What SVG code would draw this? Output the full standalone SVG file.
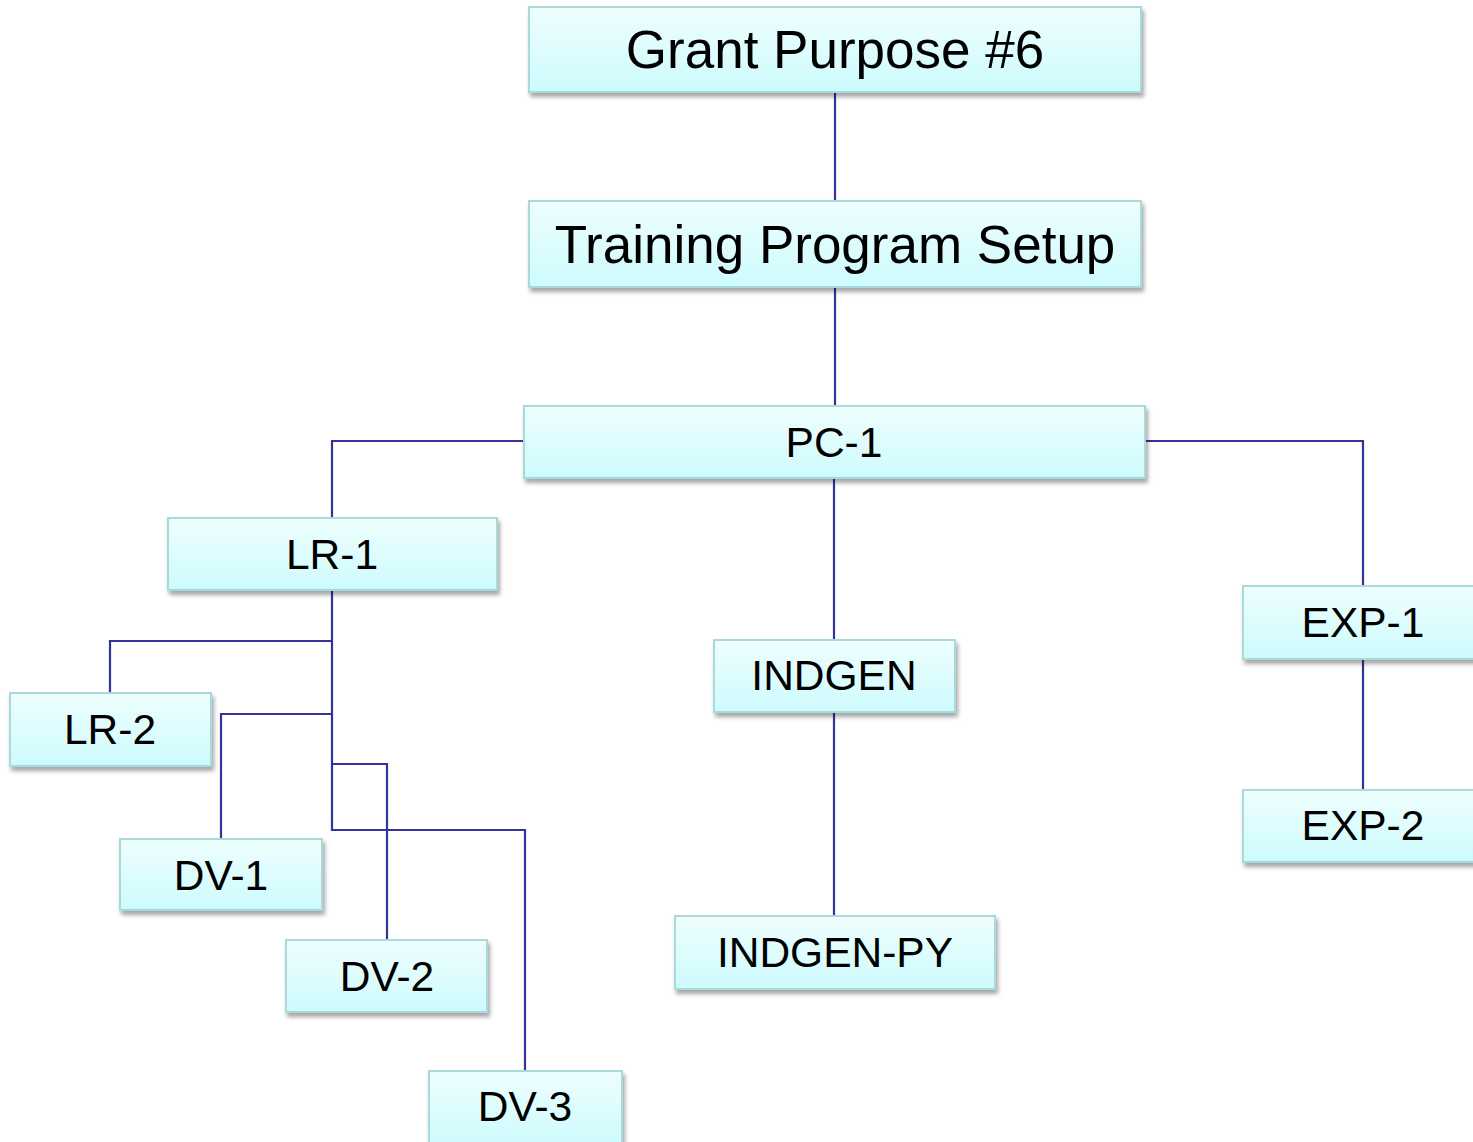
<svg xmlns="http://www.w3.org/2000/svg" width="1473" height="1142" viewBox="0 0 1473 1142">
<defs>
<linearGradient id="g" x1="0" y1="0" x2="0" y2="1">
<stop offset="0" stop-color="#effefe"/>
<stop offset="1" stop-color="#cdfbfd"/>
</linearGradient>
<filter id="sh" x="-10%" y="-20%" width="120%" height="150%">
<feDropShadow dx="2" dy="4" stdDeviation="2" flood-color="#000" flood-opacity="0.35"/>
</filter>
</defs>
<style>
.box{fill:url(#g);stroke:#a9d9d9;stroke-width:2;filter:url(#sh)}
.t{font-family:"Liberation Sans",Arial,sans-serif;fill:#000;text-anchor:middle}
.big{font-size:53px}
.sm{font-size:42.5px}
.c{fill:none;stroke:#33339a;stroke-width:2.2}
</style>
<rect width="1473" height="1142" fill="#fff"/>
<g id="connectors">
<path class="c" d="M835 92V201"/>
<path class="c" d="M835 287V406"/>
<path class="c" d="M524 441H332V518"/>
<path class="c" d="M1145 441H1363V586"/>
<path class="c" d="M834 478V640"/>
<path class="c" d="M834 712V916"/>
<path class="c" d="M1363 659V790"/>
<path class="c" d="M332 590V830H525V1071"/>
<path class="c" d="M332 641H110V693"/>
<path class="c" d="M332 714H221V839"/>
<path class="c" d="M332 764H387V940"/>
</g>
<g id="grant"><rect class="box" x="529" y="7" width="612" height="85"/><text class="t big" x="835" y="68">Grant Purpose #6</text></g>
<g id="training"><rect class="box" x="529" y="201" width="612" height="86"/><text class="t big" x="835" y="263">Training Program Setup</text></g>
<g id="pc1"><rect class="box" x="524" y="406" width="621" height="72"/><text class="t sm" x="834" y="457">PC-1</text></g>
<g id="lr1"><rect class="box" x="168" y="518" width="329" height="72"/><text class="t sm" x="332" y="569">LR-1</text></g>
<g id="lr2"><rect class="box" x="10" y="693" width="201" height="73"/><text class="t sm" x="110" y="744">LR-2</text></g>
<g id="dv1"><rect class="box" x="120" y="839" width="202" height="71"/><text class="t sm" x="221" y="890">DV-1</text></g>
<g id="dv2"><rect class="box" x="286" y="940" width="201" height="72"/><text class="t sm" x="387" y="991">DV-2</text></g>
<g id="dv3"><rect class="box" x="429" y="1071" width="193" height="75"/><text class="t sm" x="525" y="1121">DV-3</text></g>
<g id="indgen"><rect class="box" x="714" y="640" width="241" height="72"/><text class="t sm" x="834" y="690">INDGEN</text></g>
<g id="indgenpy"><rect class="box" x="675" y="916" width="320" height="73"/><text class="t sm" x="835" y="967">INDGEN-PY</text></g>
<g id="exp1"><rect class="box" x="1243" y="586" width="240" height="73"/><text class="t sm" x="1363" y="637">EXP-1</text></g>
<g id="exp2"><rect class="box" x="1243" y="790" width="240" height="72"/><text class="t sm" x="1363" y="840">EXP-2</text></g>
</svg>
